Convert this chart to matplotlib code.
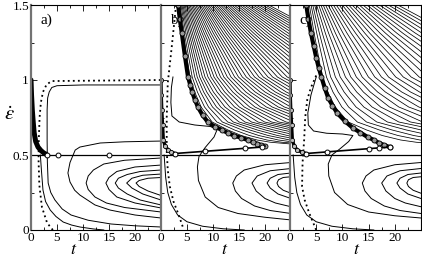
import numpy as np
import matplotlib
matplotlib.use("Agg")
from matplotlib import pyplot as plt
from matplotlib.ticker import MultipleLocator

plt.rcParams['font.family'] = ['Liberation Serif', 'DejaVu Serif']
plt.rcParams['mathtext.fontset'] = 'stix'

# ---- panel a ----
a_thick_t = [0, 0.1, 0.25, 0.4, 0.6, 0.9, 1.35, 1.9, 2.4, 2.9]
a_thick_e = [1.0, 0.9, 0.8, 0.73, 0.65, 0.59, 0.553, 0.53, 0.515, 0.505]
a_circ_t = [3.1, 5.2, 15.0]
a_dot_t = [4.2, 3.1, 2.1, 1.6, 1.45, 1.5, 1.65, 1.9, 2.3, 3.0, 4.0, 25]
a_dot_e = [0, 0.047, 0.153, 0.3, 0.467, 0.6, 0.75, 0.85, 0.92, 0.97, 0.993, 1.0]
a_sol1_t = [25, 10, 5, 4, 3.5, 3.2, 3.1, 3.1, 3.15, 3.3, 3.8, 4.6, 6, 7.7, 11, 15.4, 20, 25]
a_sol1_e = [0.967, 0.967, 0.962, 0.95, 0.92, 0.88, 0.8, 0.6, 0.45, 0.313, 0.25, 0.2,
            0.14, 0.1, 0.065, 0.04, 0.028, 0.02]
a_sol2_t = [1.8, 2.0, 2.3, 2.8, 3.7, 4.8, 6.2, 7.8, 9.4, 12, 14]
a_sol2_e = [0.5, 0.4, 0.267, 0.19, 0.133, 0.09, 0.053, 0.033, 0.02, 0.007, 0]

# C shaped curves, lists of (t, eps) points
a_cshape = [
    ([25, 18, 13.3, 9.4, 8.5, 7.5, 7.1, 7.5, 8.4, 9.4, 12.3, 15.2, 20, 25],
     [0.593, 0.588, 0.58, 0.553, 0.533, 0.45, 0.38, 0.32, 0.265, 0.233, 0.167, 0.133, 0.1, 0.08]),
    ([25, 18, 14, 12, 11, 10.6, 11, 12.3, 14.5, 18, 25],
     [0.48, 0.465, 0.44, 0.4, 0.36, 0.313, 0.27, 0.22, 0.18, 0.15, 0.12]),
    ([25, 20, 16.5, 15, 14.4, 15, 16.5, 20, 25],
     [0.433, 0.42, 0.39, 0.35, 0.313, 0.27, 0.22, 0.18, 0.147]),
    ([25, 21, 18.5, 16.8, 16.2, 16.8, 18.5, 21, 25],
     [0.4, 0.39, 0.37, 0.345, 0.313, 0.28, 0.24, 0.2, 0.167]),
    ([25, 21.5, 19.4, 18.4, 19.4, 21.5, 25],
     [0.373, 0.365, 0.345, 0.313, 0.28, 0.24, 0.2]),
    ([25, 22.5, 20.8, 20.2, 20.8, 22.5, 25],
     [0.35, 0.345, 0.33, 0.313, 0.29, 0.26, 0.23]),
]

# ---- panel b ----
b_down_t = [0, 0.05, 0.15, 0.3, 0.45, 0.8, 1.4, 2.0, 2.7]
b_down_e = [1.0, 0.9, 0.8, 0.7, 0.6, 0.56, 0.533, 0.52, 0.51]
b_line_t = [2.7, 19.4, 20.0]
b_line_e = [0.51, 0.553, 0.56]
b_circ_t = [2.7, 8.5, 16.2, 19.4]
b_up_t = [20.0, 19.2, 18.5, 17.6, 16.7, 15.4, 14, 12.8, 11.7, 10.3, 9, 8, 7.1, 6.5, 6,
          5.6, 5.2, 4.6, 4.0, 3.6, 3.3]
b_up_e = [0.56, 0.567, 0.575, 0.587, 0.6, 0.615, 0.63, 0.648, 0.667, 0.69, 0.72, 0.765,
          0.82, 0.87, 0.92, 0.97, 1.02, 1.16, 1.313, 1.41, 1.5]
b_dot_t = [2.9, 2.0, 1.3, 1.1, 1.1, 1.3, 1.7, 2.4, 3.3, 4.2]
b_dot_e = [1.5, 1.2, 0.98, 0.75, 0.53, 0.4, 0.29, 0.19, 0.11, 0.02]
b_s_t = [2.3, 2.0, 1.9, 2.1, 3.5, 6.5, 9.5, 10.8, 10.2, 8.5, 7.3, 7.0, 7.2, 8.5, 11, 14.8, 20, 25]
b_s_e = [1.02, 0.95, 0.85, 0.76, 0.72, 0.70, 0.69, 0.67, 0.62, 0.55, 0.49, 0.42, 0.33, 0.22,
         0.15, 0.11, 0.085, 0.067]
b_low_t = [0.6, 0.9, 1.3, 2.0, 3.2, 5, 8, 12, 16]
b_low_e = [0.5, 0.35, 0.25, 0.17, 0.1, 0.055, 0.025, 0.008, 0]
b_cshape = [
    ([25, 20, 16, 14.5, 13.8, 14.3, 15.5, 18, 21, 25],
     [0.45, 0.435, 0.4, 0.36, 0.313, 0.26, 0.21, 0.16, 0.13, 0.11]),
    ([25, 21, 18.5, 17.5, 18.3, 20, 22, 25],
     [0.41, 0.395, 0.36, 0.313, 0.26, 0.21, 0.18, 0.155]),
    ([25, 22.5, 21, 20.4, 21, 22.5, 25],
     [0.38, 0.37, 0.345, 0.313, 0.28, 0.24, 0.21]),
    ([25, 23.5, 22.6, 22.3, 22.6, 23.5, 25],
     [0.355, 0.35, 0.335, 0.313, 0.29, 0.265, 0.245]),
]
fam_base_t = [3.3, 4.0, 5.2, 6, 7.1, 9, 11.7, 14, 16.7, 19, 22, 25]
fam_base_e = [1.5, 1.313, 1.02, 0.92, 0.82, 0.72, 0.667, 0.63, 0.6, 0.585, 0.575, 0.57]
b_fam_scale = [1.12, 1.25, 1.4, 1.55, 1.7, 1.86, 2.02, 2.2, 2.38, 2.56, 2.75, 2.95, 3.15,
               3.36, 3.58, 3.8, 4.03, 4.26, 4.5, 4.75, 5.0, 5.26, 5.52, 5.8, 6.08, 6.37,
               6.66, 6.96, 7.27, 7.58, 7.9, 8.23, 8.57, 8.92, 9.28, 9.65, 10.03, 10.42,
               10.82, 11.23, 11.65, 12.08, 12.52, 12.97, 13.43, 13.9, 14.4]

# ---- panel c ----
c_down_t = [0, 0.05, 0.15, 0.3, 0.45, 0.8, 1.4, 2.2, 3.1]
c_down_e = [1.0, 0.9, 0.8, 0.7, 0.6, 0.56, 0.533, 0.52, 0.51]
c_line_t = [3.1, 19.0]
c_line_e = [0.51, 0.553]
c_circ_t = [3.1, 7.1, 15.0, 17.0, 19.0]
c_up_t = [19.0, 18, 17, 16, 14.8, 13.4, 12, 10.5, 9, 8.1, 7.3, 6.6, 6, 5.5, 5, 4.5, 4,
          3.5, 3.1]
c_up_e = [0.553, 0.566, 0.58, 0.6, 0.62, 0.65, 0.68, 0.725, 0.78, 0.83, 0.88, 0.95, 1.02,
          1.08, 1.15, 1.23, 1.313, 1.41, 1.5]
c_dot_t = [5.0, 4.0, 3.3, 2.9, 2.7, 2.4, 2.3, 2.8, 3.7, 5.0]
c_dot_e = [1.03, 0.95, 0.87, 0.75, 0.6, 0.45, 0.29, 0.2, 0.11, 0]
c_s_t = [5.0, 4.0, 3.4, 3.5, 4.5, 7, 10, 12, 11.2, 9.5, 8, 7.3, 7.4, 8.5, 11, 15, 20, 25]
c_s_e = [1.02, 0.9, 0.78, 0.7, 0.66, 0.645, 0.64, 0.63, 0.59, 0.54, 0.5, 0.44, 0.36, 0.25,
         0.17, 0.12, 0.095, 0.08]
c_low_t = [0.6, 0.9, 1.3, 2.0, 3.2, 5, 8, 12, 16]
c_low_e = [0.5, 0.35, 0.25, 0.17, 0.1, 0.055, 0.025, 0.008, 0]
c_cshape = b_cshape
c_fam_scale = [1.3, 1.55, 1.8, 2.08, 2.37, 2.68, 3.0, 3.33, 3.68, 4.05, 4.43, 4.83, 5.25,
               5.68, 6.13, 6.6, 7.08, 7.58, 8.1, 8.63, 9.18, 9.75, 10.34, 10.95, 11.58,
               12.23, 12.9, 13.6, 14.3]

x_ticks = [0, 5, 10, 15, 20]
y_ticks = [0, 0.5, 1, 1.5]
y_ticklabels = ['0', '0.5', '1', '1.5']

LW = 0.7

fig = plt.figure(figsize=(4.22, 2.57), dpi=100)
lefts = [31, 161, 290]
axes = []
for i, x0 in enumerate(lefts):
    w = 130 if i < 2 else 131
    ax = fig.add_axes([x0 / 422, 1 - 230 / 257, w / 422, 225 / 257])
    axes.append(ax)


def style(ax, first, last):
    ax.set_xlim(0, 25)
    ax.set_ylim(0, 1.5)
    ax.set_xticks(x_ticks)
    ax.set_xticklabels([str(v) for v in x_ticks])
    ax.xaxis.set_minor_locator(MultipleLocator(2.5))
    ax.set_yticks(y_ticks)
    ax.yaxis.set_minor_locator(MultipleLocator(0.25))
    if first:
        ax.set_yticklabels(y_ticklabels)
    else:
        ax.set_yticklabels([])
    ax.tick_params(which='both', direction='in', top=True, right=False, labelsize=9.5, pad=1.5)
    ax.tick_params(which='major', length=4, width=0.6)
    ax.tick_params(which='minor', length=2.5, width=0.6)
    ax.spines['left'].set_color('0.45')
    ax.spines['left'].set_linewidth(1.6)
    ax.spines['right'].set_visible(last)
    for s in ('top', 'bottom'):
        ax.spines[s].set_linewidth(0.8)


def family(ax, scales):
    for s in scales:
        tt = [2 + (t - 2) * s for t in fam_base_t]
        ax.plot(tt, fam_base_e, color='k', lw=0.55)


def common(ax, down_t, down_e):
    ax.axhline(0.5, color='k', lw=0.9)
    ax.plot(down_t, down_e, color='k', lw=2.4, solid_capstyle='round')
    ax.plot(down_t, down_e, 'o', ms=3, mfc='0.75', mec='k', mew=0.6)


# panel a
ax = axes[0]
for ct, ce in a_cshape:
    ax.plot(ct, ce, color='k', lw=LW)
ax.plot(a_sol1_t, a_sol1_e, color='k', lw=LW)
ax.plot(a_sol2_t, a_sol2_e, color='k', lw=LW)
ax.plot(a_dot_t, a_dot_e, color='k', lw=1.3, ls=(0, (1, 1.8)))
ax.axhline(0.5, color='k', lw=0.9)
ax.plot(a_thick_t, a_thick_e, color='k', lw=3.6, solid_capstyle='round')
ax.plot(a_circ_t, [0.5] * len(a_circ_t), 'o', ms=3.5, mfc='white', mec='k', mew=0.7)

# panels b and c
for ax, fam, cs, dt, de, s_t, s_e, lo_t, lo_e, up_t, up_e, ln_t, ln_e, cc, dn_t, dn_e in [
        (axes[1], b_fam_scale, b_cshape, b_dot_t, b_dot_e, b_s_t, b_s_e, b_low_t, b_low_e,
         b_up_t, b_up_e, b_line_t, b_line_e, b_circ_t, b_down_t, b_down_e),
        (axes[2], c_fam_scale, c_cshape, c_dot_t, c_dot_e, c_s_t, c_s_e, c_low_t, c_low_e,
         c_up_t, c_up_e, c_line_t, c_line_e, c_circ_t, c_down_t, c_down_e)]:
    family(ax, fam)
    for ct, ce in cs:
        ax.plot(ct, ce, color='k', lw=LW)
    ax.plot(s_t, s_e, color='k', lw=LW)
    ax.plot(lo_t, lo_e, color='k', lw=LW)
    ax.plot(dt, de, color='k', lw=1.3, ls=(0, (1, 1.8)))
    common(ax, dn_t, dn_e)
    ax.plot(up_t, up_e, color='k', lw=3.0, solid_capstyle='round')
    ax.plot(up_t, up_e, 'o', ms=3.6, mfc='0.6', mec='k', mew=0.6)
    ax.plot(ln_t, ln_e, color='k', lw=1.2)
    ce = np.interp(cc, ln_t, ln_e)
    ax.plot(cc, ce, 'o', ms=3.5, mfc='white', mec='k', mew=0.7)

for i, ax in enumerate(axes):
    style(ax, i == 0, i == 2)
    ax.text(0.07, 0.96, 'abc'[i] + ')', transform=ax.transAxes, fontsize=11,
            va='top', ha='left')

for xc in (74, 225, 357):
    fig.text(xc / 422, 1 - 249 / 257, '$t$', fontsize=13, ha='center', va='center')
fig.text(9 / 422, 1 - 115 / 257, r'$\dot{\varepsilon}$', fontsize=15, ha='center', va='center')

fig.savefig('out.png', dpi=100)
